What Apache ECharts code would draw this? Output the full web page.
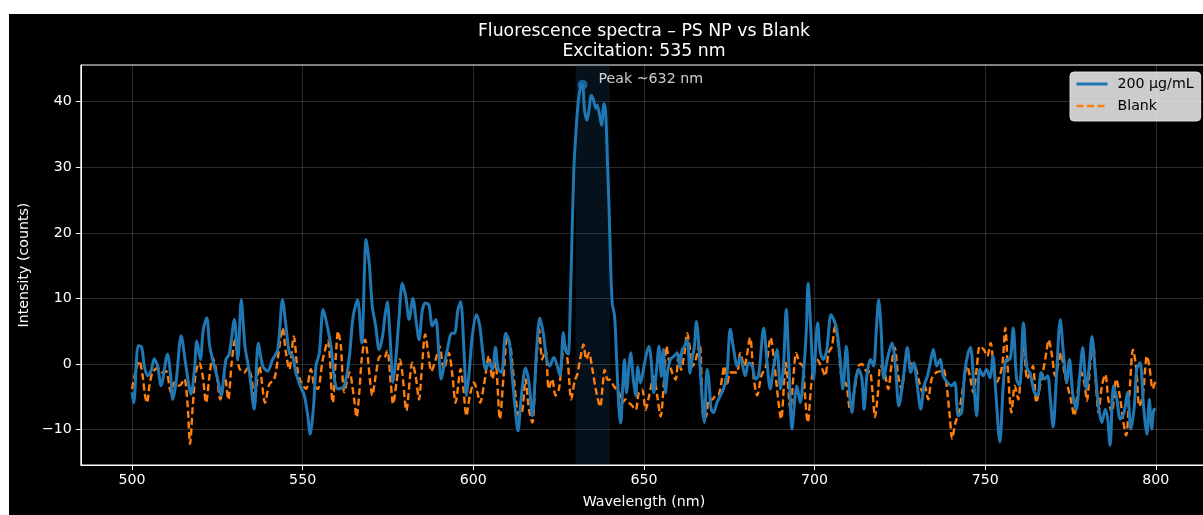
<!DOCTYPE html>
<html>
<head>
<meta charset="utf-8">
<script src="https://cdn.jsdelivr.net/npm/echarts@6/dist/echarts.min.js"></script>
<style>
html,body{margin:0;padding:0;background:#fff;width:1203px;height:515px;overflow:hidden;position:relative;}
#chart{position:absolute;left:9px;top:14px;width:1230px;height:501px;background:#000;}
</style>
</head>
<body>
<div id="chart"></div>
<script>
// ---- data ----
const xTicks = [500, 550, 600, 650, 700, 750, 800];
const yTicks = [-10, 0, 10, 20, 30, 40];
const seriesNames = ['200 µg/mL', 'Blank'];

const sampleWl = [500.0,500.5,501.8,502.8,503.6,504.6,505.6,506.5,507.5,508.5,510.4,511.4,511.9,512.9,514.4,515.8,517.3,518.3,519.0,520.0,520.9,521.9,522.7,523.6,525.1,526.1,527.5,528.5,530.0,531.0,532.0,533.1,534.4,535.8,537.0,538.3,539.7,541.2,542.7,544.1,545.1,546.1,547.1,548.0,549.5,550.5,551.5,552.2,553.2,553.9,554.9,556.0,557.0,558.3,559.3,560.3,562.2,563.7,564.8,566.1,567.3,568.6,569.5,570.4,571.4,572.4,573.4,574.1,574.8,575.6,576.5,577.3,578.2,579.2,580.2,581.2,582.3,583.3,584.1,585.1,586.0,587.0,588.0,589.0,589.9,590.6,591.4,592.6,593.6,594.5,595.5,596.3,597.3,598.0,598.7,599.7,600.9,601.9,602.8,603.6,604.6,605.6,606.5,607.3,608.3,609.5,610.6,611.4,612.4,613.1,614.0,615.3,616.3,617.3,618.5,619.5,620.5,621.5,622.4,623.6,624.6,625.4,626.4,627.0,627.8,628.5,629.0,629.5,630.0,630.7,631.5,632.0,632.6,633.3,633.9,634.6,635.2,635.9,636.3,637.1,637.6,638.3,638.8,639.3,639.8,640.2,640.7,641.4,642.0,642.7,643.2,643.7,644.3,644.9,645.6,646.1,646.9,647.6,648.2,649.0,650.0,650.8,651.5,652.1,652.9,653.7,654.4,655.1,655.7,656.3,657.0,657.8,658.8,659.8,660.5,661.2,661.9,662.7,663.5,664.1,664.8,665.4,666.1,666.8,667.7,668.5,669.0,669.7,670.4,671.4,672.4,673.3,674.3,675.3,676.3,677.3,678.2,679.7,680.7,681.7,682.7,683.6,685.1,686.1,687.0,688.0,689.0,690.0,690.9,691.7,692.5,693.4,694.2,694.8,695.8,697.0,697.6,698.1,698.9,699.7,700.9,701.7,702.6,703.6,704.8,705.6,706.5,707.5,708.3,709.3,710.2,710.9,711.9,712.9,713.9,714.5,715.4,716.4,717.3,718.1,718.8,719.5,720.3,721.3,722.7,723.7,724.7,726.2,727.2,728.2,729.1,730.1,731.1,732.1,733.1,734.1,734.8,735.8,736.8,737.7,738.9,740.1,741.1,742.1,743.1,744.0,745.0,745.7,746.7,747.5,748.4,749.4,750.4,751.4,752.3,753.1,754.3,755.3,756.2,757.2,758.2,759.2,760.1,761.2,762.2,763.2,764.4,765.4,766.4,767.3,768.3,769.1,769.9,770.8,772.0,773.0,773.9,774.7,775.7,776.7,777.7,778.6,779.6,780.5,781.3,782.2,783.2,784.2,785.2,785.9,786.6,787.6,788.6,789.6,790.7,791.7,792.7,793.7,794.4,795.4,796.4,797.4,798.1,798.8,799.5,800.0];
const sampleVal = [-4.3,-5.9,2.8,2.6,-0.3,-1.8,-1.0,0.8,-0.3,-3.3,1.5,-2.3,-5.4,-2.8,4.3,-0.3,-4.6,-0.8,3.5,0.7,5.3,7.0,3.0,0.7,-2.3,-4.8,0.7,1.5,6.8,0.7,9.8,2.7,-1.3,-6.9,3.2,-0.3,-1.1,0.7,2.2,9.8,5.8,1.7,1.2,-1.3,-3.6,-4.8,-7.9,-10.7,-6.4,-0.3,1.7,8.3,6.3,2.7,-2.3,-3.8,-3.3,1.2,7.3,9.8,3.2,19.0,15.4,8.8,5.8,2.2,4.2,7.3,9.5,4.2,-2.8,0.7,6.8,12.3,10.3,6.8,10.0,6.3,3.7,8.3,9.3,9.0,5.8,6.8,1.7,-2.3,-0.3,2.7,4.7,4.7,8.3,9.5,1.7,-4.8,-1.8,4.2,7.5,5.8,1.7,-0.8,0.2,-0.8,2.5,-0.8,-1.3,4.7,3.2,-1.8,-7.4,-10.2,-5.4,-0.6,-2.8,-7.9,1.7,7.0,4.7,0.7,-0.3,1.0,-0.3,-1.8,4.8,2.2,1.5,10.8,21.0,30.0,34.7,39.7,42.5,42.6,38.7,37.2,38.7,41.0,40.3,39.0,39.5,37.7,36.4,39.7,38.2,31.0,23.5,15.9,9.3,7.3,0.7,-7.0,-9.0,-4.4,0.7,-4.4,-0.4,1.7,-2.4,-4.9,-0.4,-2.9,-0.4,1.7,2.7,0.7,-4.4,-0.9,2.7,-1.9,2.2,-4.4,-0.9,0.7,1.2,1.7,-0.4,2.2,2.7,3.7,-1.4,0.7,2.7,6.5,2.7,-3.4,-8.9,-0.8,-2.3,-6.9,-7.4,-5.9,-4.8,-3.8,-1.8,5.3,2.2,-0.3,1.0,-1.8,0.2,-0.3,-2.3,-1.8,5.5,0.2,-3.8,-0.3,2.2,-3.8,-0.3,8.3,-0.3,-9.9,-5.4,-3.3,-5.9,0.2,5.3,12.3,5.3,-2.3,6.3,1.7,0.7,2.2,7.5,6.8,5.3,0.7,-3.8,2.7,-4.3,-7.4,-2.8,-0.8,-2.3,-6.9,-1.5,0.7,-0.3,5.3,9.8,5.3,-2.3,0.7,3.2,-0.3,-6.4,-1.3,2.5,-1.3,0.2,-3.3,-6.9,-3.3,-1.8,0.7,2.2,-0.3,0.7,-1.8,-2.8,-3.3,-2.8,-7.9,-7.4,-1.3,1.7,2.5,-3.3,-7.9,-0.8,-1.8,-0.8,-2.1,1.2,-4.3,-11.9,-3.3,0.7,0.7,5.5,-2.3,-3.3,6.3,-0.5,-1.5,-4.3,-4.8,-1.3,-2.3,-1.8,-5.4,-9.6,-2.8,6.8,1.2,-2.8,0.7,-4.8,-6.9,-1.8,2.5,-3.8,-0.3,4.2,-0.8,-6.4,-8.9,-6.9,-8.4,-12.4,-3.3,-5.4,-8.4,-7.4,-4.3,-9.9,-6.4,-0.8,0.2,-6.4,-10.7,-5.4,-9.9,-6.9,-6.9];

const blankWl = [500.0,501.2,502.1,503.1,503.8,504.4,505.1,506.0,507.5,509.0,510.0,511.4,512.4,513.9,515.3,516.3,517.0,517.8,518.7,519.7,520.7,521.7,522.7,523.6,524.6,525.9,527.2,528.2,529.2,530.2,531.4,532.9,533.9,534.9,535.9,537.3,539.0,540.2,541.7,543.2,544.1,545.1,546.1,547.4,548.5,549.5,551.0,552.4,553.4,554.4,555.9,557.4,558.8,560.4,561.2,562.2,563.7,565.1,565.8,566.6,567.3,568.3,569.1,569.8,570.4,571.4,572.7,573.9,574.8,575.8,576.5,577.5,578.5,579.2,580.4,581.5,582.1,583.1,584.1,584.9,585.9,586.8,587.7,589.0,590.1,591.4,592.8,593.9,594.8,596.3,597.1,598.0,599.0,600.2,601.2,602.0,603.1,604.6,605.6,606.5,607.8,608.8,610.0,610.9,611.9,613.4,614.3,615.3,616.3,617.3,618.3,619.3,620.2,621.2,622.1,623.1,624.1,625.1,626.0,626.7,627.7,628.7,629.7,630.5,631.3,632.3,633.1,633.9,634.9,635.9,637.2,637.9,638.5,639.4,640.0,641.2,642.7,643.7,644.6,645.6,646.6,647.6,648.5,649.5,650.5,651.5,652.9,653.9,654.9,655.9,656.6,657.3,658.3,659.3,660.2,660.9,661.9,662.7,663.5,664.1,665.1,666.3,667.5,668.3,669.0,670.0,671.0,672.0,673.0,673.5,674.3,675.3,676.2,677.3,678.2,679.4,681.1,682.2,683.2,684.4,685.8,687.1,688.1,689.1,690.2,691.6,692.9,693.9,694.6,695.6,696.6,697.2,698.0,699.0,699.7,700.7,701.9,703.1,704.1,705.1,706.0,707.0,708.0,709.3,710.4,711.6,712.9,713.9,714.8,715.6,716.2,717.0,717.7,718.6,719.3,720.3,721.6,722.5,723.5,724.5,725.5,727.0,727.9,729.4,730.7,731.7,732.3,733.3,734.3,735.6,736.8,737.7,738.7,739.7,740.3,741.3,742.3,743.6,744.7,745.5,746.5,747.5,748.4,749.6,750.6,751.6,752.3,753.3,754.3,755.1,755.9,756.7,757.7,758.7,759.7,760.5,761.3,762.3,763.2,764.0,765.0,765.9,766.9,767.9,768.6,769.6,770.5,771.5,772.2,773.2,774.1,775.1,776.1,777.1,778.0,779.0,779.8,780.8,781.6,782.5,783.2,784.2,785.2,786.1,787.1,788.4,789.6,790.5,791.3,792.3,793.3,794.2,795.2,796.2,797.4,798.1,799.1,800.0];
const blankVal = [-3.8,-0.8,0.5,-1.8,-4.8,-5.9,-3.3,-1.3,-0.6,-1.3,-1.1,-4.3,-2.8,-3.3,-2.3,-6.4,-12.2,-6.4,-1.3,0.2,-1.8,-5.9,-1.8,1.0,-0.8,-5.4,-1.8,-5.4,0.2,3.7,-0.6,-1.3,-0.6,-1.8,-5.4,-0.3,-5.9,-3.1,-2.3,2.7,5.5,1.7,-0.8,4.2,-0.8,-2.8,-3.8,-0.8,-3.3,-3.8,0.7,3.5,-5.9,5.0,2.7,-4.3,-1.3,-5.4,-8.1,-4.3,0.7,3.7,0.9,-2.8,-4.8,-1.8,1.2,1.0,2.0,-2.8,-6.1,-2.8,0.7,-1.3,-7.1,-1.8,0.2,-1.8,-5.4,-0.8,4.5,1.7,-1.1,0.7,2.7,-0.8,1.7,-1.8,-5.9,-0.8,-3.8,-7.9,-4.8,-2.8,-4.3,-5.9,-3.3,1.2,-2.3,0.2,-8.4,-2.3,4.2,2.7,-2.3,-7.9,-7.4,-2.3,-6.9,-8.9,-0.8,5.3,0.7,2.2,-3.8,-2.3,-4.8,-3.8,0.7,3.2,0.2,-5.4,-2.6,-1.5,0.7,3.0,0.7,1.7,-0.8,-3.9,-6.5,-3.4,-0.9,-2.4,-2.4,-3.4,-4.4,-5.9,-5.4,-5.9,-6.4,-7.0,-4.4,-3.9,-7.0,-4.9,-1.9,-4.9,-8.0,-2.4,2.7,0.7,-1.4,-2.4,1.7,-0.9,1.7,4.7,2.2,-0.4,0.5,3.2,-8.4,-7.9,-5.4,-5.4,-4.8,-4.6,-1.8,-0.3,-3.3,-1.3,-1.3,-1.3,1.7,-0.3,4.0,-2.3,-4.8,-1.8,-0.3,4.0,0.7,-4.3,-8.4,0.2,-6.9,-1.3,1.7,0.2,-0.3,-4.8,-8.9,-3.3,-0.3,0.7,-0.3,-1.8,1.7,2.7,5.8,2.7,-2.3,-3.1,-6.9,-4.3,-0.3,0.0,-0.8,-1.3,-1.1,-4.3,-8.1,-4.3,-0.3,-0.8,-3.8,-0.3,2.5,-1.8,-3.8,1.2,0.2,-0.3,-2.8,-4.3,-3.3,-5.4,-2.3,-1.3,-1.1,-0.8,-3.3,-8.4,-11.4,-8.9,-7.4,-3.3,-0.3,-1.8,-4.3,-0.8,2.7,2.2,1.2,3.2,0.7,-2.8,-1.8,0.2,5.5,-1.3,-7.4,-3.3,-5.4,-1.3,2.9,-2.3,-1.3,-0.3,-5.9,-3.8,-1.3,1.7,3.7,1.2,-1.8,0.2,1.7,-1.3,-3.3,-5.4,-7.9,-4.3,-1.1,-2.8,-5.6,0.2,3.2,-3.3,-7.4,-3.3,-1.6,-5.4,-7.4,-2.3,-5.4,-8.9,-10.9,-4.3,2.2,-0.3,-6.4,-4.8,1.2,-0.3,-3.8,-2.3];

const peakWl = [632.0];
const peakVal = [42.6];
const bandRange = [630, 640];

// ---- chart ----
const FONT = 'DejaVu Sans';
const chart = echarts.init(document.getElementById('chart'), null, {renderer: 'canvas'});
const minusFmt = v => String(v).replace('-', '\u2212');

chart.setOption({
  backgroundColor: '#000',
  animation: false,
  textStyle: {fontFamily: FONT},
  graphic: [
    {type: 'text', x: 635, y: 18, style: {text: 'Fluorescence spectra \u2013 PS NP vs Blank', fill: '#fff', font: '17.3px "DejaVu Sans"', textAlign: 'center', textVerticalAlign: 'middle'}},
    {type: 'text', x: 635, y: 37.5, style: {text: 'Excitation: 535 nm', fill: '#fff', font: '17.3px "DejaVu Sans"', textAlign: 'center', textVerticalAlign: 'middle'}}
  ],
  legend: {
    data: [
      {name: seriesNames[0], lineStyle: {width: 3, color: '#1f77b4'}},
      {name: seriesNames[1], lineStyle: {width: 2.4, color: '#ff7f0e', type: [7, 3.5]}}
    ],
    orient: 'vertical',
    left: 1061, top: 58,
    padding: [5, 7, 8, 5],
    itemWidth: 31, itemHeight: 14, itemGap: 8,
    backgroundColor: 'rgba(255,255,255,0.8)',
    borderColor: 'rgba(230,230,230,0.9)', borderWidth: 1, borderRadius: 4,
    itemStyle: {color: 'rgba(0,0,0,0)', borderWidth: 0, opacity: 0},
    textStyle: {color: '#000', fontSize: 14.2, fontFamily: FONT, padding: [0, 0, 0, 5]}
  },
  grid: {left: 71, top: 51, width: 1127, height: 400, show: true, borderColor: '#fff', borderWidth: 1, containLabel: false},
  xAxis: {
    type: 'value', min: 485, max: 815,
    name: 'Wavelength (nm)', nameLocation: 'middle', nameGap: 30,
    nameTextStyle: {color: '#fff', fontSize: 14.2, fontFamily: FONT},
    axisLine: {show: true, onZero: false, lineStyle: {color: '#fff'}},
    axisTick: {show: true, length: 5, lineStyle: {color: '#fff'}, customValues: xTicks},
    axisLabel: {color: '#fff', fontSize: 14.2, fontFamily: FONT, margin: 8, customValues: xTicks},
    splitLine: {show: true, lineStyle: {color: 'rgba(255,255,255,0.17)', width: 1}}
  },
  yAxis: {
    type: 'value', min: -15.4, max: 45.6,
    name: 'Intensity (counts)', nameLocation: 'middle', nameGap: 45, nameRotate: 90,
    nameTextStyle: {color: '#fff', fontSize: 14.2, fontFamily: FONT},
    axisLine: {show: true, onZero: false, lineStyle: {color: '#fff'}},
    axisTick: {show: true, length: 5, lineStyle: {color: '#fff'}, customValues: yTicks},
    axisLabel: {color: '#fff', fontSize: 14.2, fontFamily: FONT, margin: 9, customValues: yTicks, formatter: minusFmt},
    splitLine: {show: true, lineStyle: {color: 'rgba(255,255,255,0.17)', width: 1}}
  },
  series: [
    {
      name: seriesNames[0], type: 'line', showSymbol: false, symbol: 'none', smooth: 0.3,
      data: sampleWl.map((x, i) => [x, sampleVal[i]]),
      lineStyle: {color: '#1f77b4', width: 3}, itemStyle: {color: '#1f77b4'},
      z: 3,
      markArea: {silent: true, itemStyle: {color: 'rgba(31,119,180,0.15)'}, data: [[{xAxis: bandRange[0]}, {xAxis: bandRange[1]}]]}
    },
    {
      name: seriesNames[1], type: 'line', showSymbol: false, symbol: 'none', smooth: 0.3,
      data: blankWl.map((x, i) => [x, blankVal[i]]),
      lineStyle: {color: '#ff7f0e', width: 2.4, type: [7, 3.5]}, itemStyle: {color: '#ff7f0e'},
      z: 2
    },
    {
      name: 'peak', type: 'scatter', symbolSize: 10,
      data: peakWl.map((x, i) => [x, peakVal[i]]),
      itemStyle: {color: '#1f77b4'}, z: 4,
      label: {show: true, position: 'right', distance: 11, offset: [0, -5], formatter: 'Peak ~632 nm', color: '#fff', fontSize: 14.2, fontFamily: FONT}
    }
  ]
});
</script>
</body>
</html>
